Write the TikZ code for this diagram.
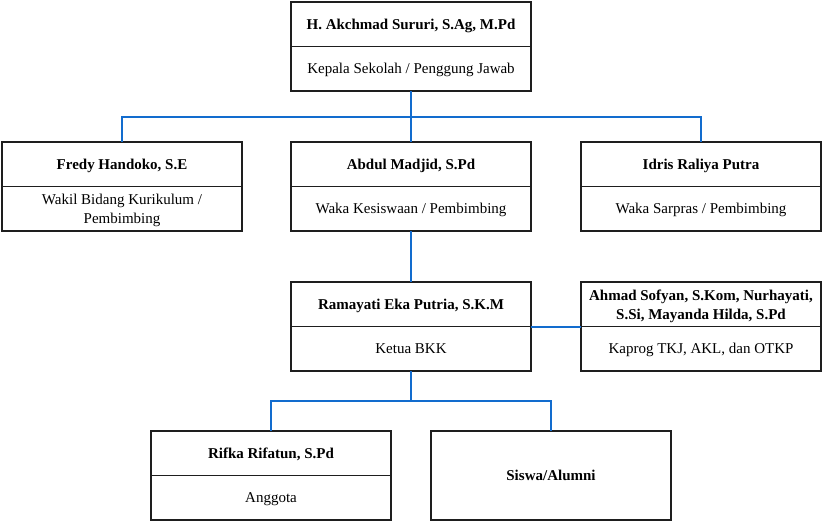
\documentclass[tikz,border=0pt]{standalone}
\usepackage{fontspec}
\setmainfont{Liberation Serif}
\definecolor{linkblue}{RGB}{18,108,206}
\definecolor{boxline}{RGB}{30,30,30}
\begin{document}
\begin{tikzpicture}[x=1pt,y=-1pt,
  hd/.style={draw=boxline, line width=1.7pt, minimum width=240pt, minimum height=44.5pt,
    inner sep=0pt, outer sep=0pt, anchor=north west, align=center, text depth=0pt,
    font=\bfseries\fontsize{15}{17}\selectfont},
  bd/.style={draw=boxline, line width=1.7pt, minimum width=240pt, minimum height=44.5pt,
    inner sep=0pt, outer sep=0pt, anchor=north west, align=center, text depth=0pt,
    font=\fontsize{15}{18.5}\selectfont},
  link/.style={draw=linkblue, line width=2pt}]
\useasboundingbox (0,0) rectangle (822,522);

% top
\node[hd] (a1) at (291,2) {H. Akchmad Sururi, S.Ag, M.Pd};
\node[bd] (a2) at (a1.south west) {Kepala Sekolah / Penggung Jawab};

% row 2
\node[hd] (b1) at (2,142) {Fredy Handoko, S.E};
\node[bd] (b1b) at (b1.south west) {Wakil Bidang Kurikulum /\\Pembimbing};
\node[hd] (b2) at (291,142) {Abdul Madjid, S.Pd};
\node[bd] (b2b) at (b2.south west) {Waka Kesiswaan / Pembimbing};
\node[hd] (b3) at (581,142) {Idris Raliya Putra};
\node[bd] (b3b) at (b3.south west) {Waka Sarpras / Pembimbing};

% row 3
\node[hd] (c1) at (291,282) {Ramayati Eka Putria, S.K.M};
\node[bd] (c1b) at (c1.south west) {Ketua BKK};
\node[hd, font=\bfseries\fontsize{15}{19}\selectfont] (c2) at (581,282) {Ahmad Sofyan, S.Kom, Nurhayati,\\S.Si, Mayanda Hilda, S.Pd};
\node[bd] (c2b) at (c2.south west) {Kaprog TKJ, AKL, dan OTKP};

% row 4
\node[hd] (d1) at (151,431) {Rifka Rifatun, S.Pd};
\node[bd] (d1b) at (d1.south west) {Anggota};
\node[hd, minimum height=89pt] (d2) at (431,431) {Siswa/Alumni};

% connectors
\coordinate (j1) at (411,117);
\coordinate (j2) at (411,401);
\draw[link] (a2.south) -- (b2.north);
\draw[link] (b1.north) |- (j1) -| (b3.north);
\draw[link] (b2b.south) -- (c1.north);
\draw[link] (c1.south east) -- (c2.south west);
\draw[link] (c1b.south) -- (j2);
\draw[link] (d1.north) |- (j2) -| (d2.north);
\end{tikzpicture}
\end{document}
